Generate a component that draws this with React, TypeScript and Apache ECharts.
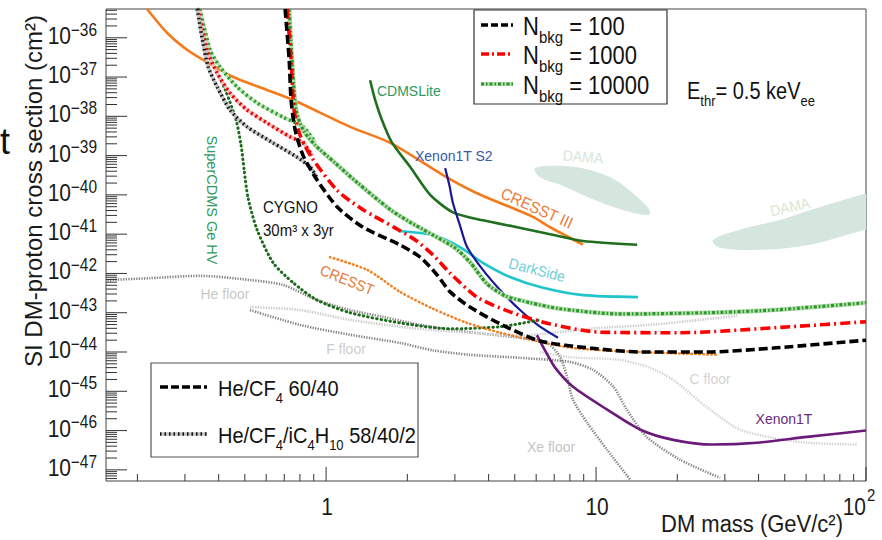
import React, { useEffect, useRef } from 'react';
import * as echarts from 'echarts';

const FONT = '"Liberation Sans", Arial, Helvetica, sans-serif';

// ---------- axes ----------
const massRange = [0.153, 100];
const sigmaRange = [5.2e-48, 5.4e-36];
const massLabelValues = [1, 10, 100];
const massLabelBases = ['1', '10', '10'];
const massLabelSups = ['', '', '2'];
const massDecades = [0.1, 1, 10];
const minorMultipliers = [2, 3, 4, 5, 6, 7, 8, 9];
const sigmaLabelExponents = [-36, -37, -38, -39, -40, -41, -42, -43, -44, -45, -46, -47];
const sigmaDecadeExponents = [-48, -47, -46, -45, -44, -43, -42, -41, -40, -39, -38, -37, -36];

// ---------- curves: [mass GeV, sigma cm^2] ----------
const cresstSolid = [[0.217,5.4e-36],[0.258,1.32e-36],[0.306,4.9e-37],[0.362,2.4e-37],[0.453,1e-37],[0.604,4.7e-38],[0.755,2.6e-38],[1.227,5.4e-39],[1.73,2.1e-39],[2.71,3.2e-40],[3.62,1.1e-40],[4.8,4.9e-41],[5.84,2.75e-41],[6.76,1.5e-41],[8.95,5.4e-42]];
const cdmsLite = [[1.455,8.3e-38],[1.52,2.6e-38],[1.61,8.1e-39],[1.75,2.2e-39],[2.05,5.1e-40],[2.43,1e-40],[2.95,3.6e-41],[3.81,2.25e-41],[5.1,1.5e-41],[6.76,1e-41],[8.95,6.7e-42],[14.2,5.4e-42]];
const xenon1tS2 = [[2.76,4.8e-40],[2.86,1.8e-40],[2.95,6.2e-41],[3.13,1.7e-41],[3.33,4.7e-42],[3.81,1.23e-42],[4.41,3.8e-43],[5.23,1.17e-43],[6.2,4.4e-44],[7.23,2.3e-44]];
const darkSide = [[1.85,1.2e-41],[2.49,9.5e-42],[3.13,4.7e-42],[3.81,1.86e-42],[4.8,8.1e-43],[6.36,4.3e-43],[8.95,2.8e-43],[14.3,2.5e-43]];
const xenon1t = [[6.04,2.7e-44],[6.47,1.1e-44],[7.05,4e-45],[8.22,1.3e-45],[11.0,3.4e-46],[14.6,1.05e-46],[19.3,5.8e-47],[27.1,4.4e-47],[39.5,4.9e-47],[60.4,6.9e-47],[100,1e-46]];
const superCdmsGeHv = [[0.336,5.4e-36],[0.362,4.9e-37],[0.423,4.7e-38],[0.464,8.1e-39],[0.484,1.86e-39],[0.497,4.3e-40],[0.514,8.3e-41],[0.555,1.3e-41],[0.637,1.86e-42],[0.755,5.8e-43],[0.926,2.1e-43],[1.227,1e-43],[1.88,5.5e-44],[2.88,3.9e-44],[4.41,4.4e-44],[6.2,6.6e-44]];
const cresstDotted = [[1.035,2.6e-42],[1.42,1.23e-42],[1.88,3.4e-43],[2.49,1.26e-43],[3.33,5.5e-44],[4.41,3.1e-44],[5.84,2.0e-44],[8.22,1.26e-44],[14.6,1e-44],[28.3,8.5e-45]];

const heCf4Bkg100 = [[0.705,5.4e-36],[0.73,2.7e-37],[0.742,2.6e-38],[0.768,4.5e-39],[0.822,1.0e-39],[0.926,2.4e-40],[1.1,4.9e-41],[1.37,1.5e-41],[1.88,5.3e-42],[2.23,2.6e-42],[2.58,9.1e-43],[2.88,3.4e-43],[3.41,1.4e-43],[4.41,5.2e-44],[6.2,1.9e-44],[9.5,1.26e-44],[14.6,1e-44],[25.8,1e-44],[45.3,1.26e-44],[100,2.0e-44]];
const heCf4Bkg1000 = [[0.717,5.4e-36],[0.742,2.7e-37],[0.761,1.45e-38],[0.801,3.3e-39],[0.887,8.7e-40],[1.1,1.3e-40],[1.37,4.2e-41],[1.80,1.45e-41],[2.14,7.1e-42],[2.49,2.95e-42],[2.88,1.02e-42],[3.62,2.5e-43],[4.8,1.05e-43],[6.76,5.2e-44],[10.3,3.2e-44],[20.5,3.1e-44],[52.3,4.4e-44],[100,5.9e-44]];
const heCf4Bkg10000 = [[0.73,5.4e-36],[0.748,2.7e-37],[0.774,1.45e-38],[0.822,4.5e-39],[0.91,1.86e-39],[1.08,6.5e-40],[1.30,2.1e-40],[1.73,4.2e-41],[2.05,2.0e-41],[2.49,9.5e-42],[3.0,4.5e-42],[3.41,1.95e-42],[3.95,5.4e-43],[4.6,2.7e-43],[5.7,1.8e-43],[7.36,1.26e-43],[12.3,9.3e-44],[25.8,1e-43],[45.3,1.17e-43],[100,1.8e-43]];
const mixBkg100 = [[0.333,5.4e-36],[0.35,7.4e-37],[0.366,1.8e-37],[0.395,5.6e-38],[0.441,1.45e-38],[0.51,5.4e-39],[0.637,2.1e-39],[0.781,9.1e-40],[0.873,5.1e-40],[0.926,2.7e-40]];
const mixBkg1000 = [[0.336,5.4e-36],[0.362,4.9e-37],[0.395,1.26e-37],[0.441,3.9e-38],[0.51,1.45e-38],[0.604,6.8e-39],[0.736,3.0e-39],[0.822,2.1e-39],[0.887,1.0e-39]];
const mixBkg10000 = [[0.341,5.4e-36],[0.372,4.9e-37],[0.405,1.8e-37],[0.468,5.6e-38],[0.555,2.2e-38],[0.693,9.5e-39],[0.822,5.4e-39],[0.91,2.2e-39]];

const floorHeXe = [[0.155,6.8e-43],[0.223,7.6e-43],[0.341,8.7e-43],[0.523,6.8e-43],[0.693,5.1e-43],[0.926,2.1e-43],[1.227,1.17e-43],[1.63,7.8e-44],[2.23,4.9e-44],[3.41,3.2e-44],[5.23,2.3e-44],[6.59,1.7e-44],[7.36,7.4e-45],[7.81,2.3e-45],[8.22,6e-46],[9.26,1.6e-46],[11.0,3.2e-47],[13.4,5.6e-48]];
const floorLightUpper = [[0.523,1.4e-43],[0.801,1.17e-43],[1.227,6.6e-44],[1.88,4.4e-44],[2.49,3.6e-44],[3.41,3.1e-44],[5.23,2.6e-44],[6.93,3.1e-44],[10.3,4.1e-44],[15.8,4.9e-44],[24.3,6.6e-44],[33.3,8.3e-44]];
const floorF = [[0.523,1.17e-43],[0.801,4.9e-44],[1.227,2.75e-44],[1.88,1.7e-44],[2.49,1.1e-44],[3.41,8.5e-45],[5.23,7.1e-45],[8.0,5.6e-45],[9.75,3.5e-45],[11.6,1.3e-45],[13.0,3.4e-46],[15.4,6.9e-47],[20.5,1.8e-47],[28.8,6.3e-48]];
const floorC = [[6.2,1e-44],[8.0,7.4e-45],[12.3,6.3e-45],[15.8,4e-45],[19.3,1.95e-45],[24.3,5.4e-46],[28.8,2.2e-46],[34.1,1.05e-46],[45.3,6.5e-47],[60.4,4.9e-47],[92.7,4.4e-47]];

const damaLow = [[5.94,4.8e-40],[7.36,5.5e-40],[9.5,4.3e-40],[11.8,2.4e-40],[13.9,1e-40],[15.6,4.7e-41],[15.8,3.2e-41],[14.6,3.2e-41],[11.8,4.7e-41],[9.5,8.3e-41],[7.36,1.8e-40],[6.2,2.8e-40]];
const damaHigh = [[27.1,7.1e-42],[34.1,1.3e-41],[48,2.3e-41],[67.6,4.9e-41],[100,1.1e-40],[133,2e-40],[133,1.7e-41],[100,1.3e-41],[62,5.4e-42],[40.5,4e-42],[28.8,4.5e-42]];

// ---------- helpers ----------
function line(name: string, data: number[][], color: string, width: number, dash: any, z: number, cap = 'butt') {
  return {
    type: 'line', name, data, symbol: 'none', showSymbol: false, smooth: 0.25, silent: true, z,
    lineStyle: { color, width, type: dash || 'solid', cap },
  };
}

function polygon(name: string, pts: number[][], fill: string) {
  return {
    type: 'custom', name, coordinateSystem: 'cartesian2d', clip: true, silent: true, z: 1,
    data: [[pts[0][0], pts[0][1]]],
    renderItem: (_p: any, api: any) => ({
      type: 'polygon',
      shape: { points: pts.map((p) => api.coord(p)), smooth: 0.35 },
      style: { fill, stroke: 'none' },
    }),
  };
}

function buildOption() {
  const massTicks: number[][] = [];
  massDecades.forEach((d) => minorMultipliers.forEach((k) => {
    const v = d * k;
    if (v >= massRange[0] && v <= massRange[1]) massTicks.push([v, sigmaRange[0], 0]);
  }));
  massLabelValues.forEach((v) => massTicks.push([v, sigmaRange[0], 1]));

  const sigmaTicks: number[][] = [];
  sigmaDecadeExponents.forEach((e) => minorMultipliers.forEach((k) => {
    const v = k * Math.pow(10, e);
    if (v >= sigmaRange[0] && v <= sigmaRange[1]) sigmaTicks.push([massRange[0], v, 0]);
  }));
  sigmaLabelExponents.forEach((e) => sigmaTicks.push([massRange[0], Math.pow(10, e), 1]));

  const tickColor = '#333';
  const ink = '#1a1a1a';
  const baseText = (text: string, x: number, y: number, size: number, align: string) => ({
    type: 'text', x, y, scaleY: 1.15,
    style: { text, fontSize: size, fontFamily: FONT, fill: ink, align, verticalAlign: 'middle' },
  });

  const series: any[] = [
    polygon('DAMA', damaLow, '#d5e6de'),
    polygon('DAMA ', damaHigh, '#d5e6de'),
    // floors
    line('He floor', floorHeXe, '#858585', 2.6, [1.3, 1.3], 2),
    line('F floor upper', floorLightUpper, '#c9c9c9', 2.6, [1.3, 1.3], 2),
    line('F floor', floorF, '#858585', 2.6, [1.3, 1.3], 2),
    line('C floor', floorC, '#d0d0d0', 2.4, [1.3, 1.3], 2),
    // experiments
    line('CRESST', cresstSolid, '#f47a1c', 2.6, null, 3),
    line('CDMSLite', cdmsLite, '#1f6f1f', 2.6, null, 3),
    line('DarkSide', darkSide, '#1ec6cc', 2.6, null, 3),
    line('Xenon1T', xenon1t, '#6b1a7a', 2.6, null, 3),
    line('Xenon1T S2', xenon1tS2, '#1a1a96', 2.2, null, 3),
    line('SuperCDMS Ge HV', superCdmsGeHv, '#1b6b1b', 3, [0.5, 4], 3, 'round'),
    line('CRESST low', cresstDotted, '#f08224', 2.6, [0.5, 3.5], 3, 'round'),
    // CYGNO He/CF4/iC4H10
    line('mix 10000 base', mixBkg10000, '#bfe5b8', 3.6, null, 4),
    line('mix 10000', mixBkg10000, '#2a9a2a', 3.6, [2, 3], 4),
    line('mix 1000 base', mixBkg1000, '#f5bcbc', 3.6, null, 4),
    line('mix 1000', mixBkg1000, '#e40000', 3.6, [2, 3], 4),
    line('mix 100 base', mixBkg100, '#c2c2c2', 3.6, null, 4),
    line('mix 100', mixBkg100, '#111111', 3.6, [1.5, 3], 4),
    // CYGNO He/CF4
    line('N 10000 base', heCf4Bkg10000, '#b4dfac', 4.6, null, 5),
    line('N 10000', heCf4Bkg10000, '#2e962e', 3.2, [3, 2, 1.5, 2], 5),
    line('N 1000', heCf4Bkg1000, '#ff0000', 3.6, [10, 4, 2, 4], 5),
    line('N 100', heCf4Bkg100, '#000000', 3.6, [9, 4], 6),
    // axis ticks
    {
      type: 'custom', name: 'mass ticks', coordinateSystem: 'cartesian2d', clip: false, silent: true, z: 8,
      data: massTicks,
      renderItem: (_p: any, api: any) => {
        const p = api.coord([api.value(0), api.value(1)]);
        const len = api.value(2) ? 14 : 7;
        return { type: 'line', shape: { x1: p[0], y1: p[1], x2: p[0], y2: p[1] - len }, style: { stroke: tickColor, lineWidth: 1 } };
      },
    },
    {
      type: 'custom', name: 'sigma ticks', coordinateSystem: 'cartesian2d', clip: false, silent: true, z: 8,
      data: sigmaTicks,
      renderItem: (_p: any, api: any) => {
        const p = api.coord([api.value(0), api.value(1)]);
        const len = api.value(2) ? 21 : 11;
        return { type: 'line', shape: { x1: p[0], y1: p[1], x2: p[0] + len, y2: p[1] }, style: { stroke: tickColor, lineWidth: 1 } };
      },
    },
    {
      type: 'custom', name: 'mass labels', coordinateSystem: 'cartesian2d', clip: false, silent: true, z: 8,
      data: massLabelValues.map((v) => [v, sigmaRange[0]]),
      renderItem: (params: any, api: any) => {
        const p = api.coord([api.value(0), api.value(1)]);
        const i = params.dataIndex;
        const y = p[1] + 26;
        if (massLabelSups[i]) {
          return {
            type: 'group',
            children: [
              baseText(massLabelBases[i], p[0], y, 21, 'right'),
              baseText(massLabelSups[i], p[0] + 1, y - 12, 15, 'left'),
            ],
          };
        }
        return baseText(massLabelBases[i], p[0] + 1, y, 21, 'center');
      },
    },
    {
      type: 'custom', name: 'sigma labels', coordinateSystem: 'cartesian2d', clip: false, silent: true, z: 8,
      data: sigmaLabelExponents.map((e) => [massRange[0], Math.pow(10, e)]),
      renderItem: (params: any, api: any) => {
        const p = api.coord([api.value(0), api.value(1)]);
        const e = sigmaLabelExponents[params.dataIndex];
        const xr = p[0] - 9;
        return {
          type: 'group',
          children: [
            baseText('10', xr - 26, p[1] - 2, 21, 'right'),
            baseText('\u2212' + Math.abs(e), xr, p[1] - 8, 15.5, 'right'),
          ],
        };
      },
    },
  ];

  const T = (text: string, x: number, y: number, fill: string, fontSize: number, extra: any = {}) => ({
    type: 'text', x, y, z: 60, silent: true, rotation: extra.rotation || 0, scaleY: extra.scaleY || 1,
    style: { text, fill, fontSize, fontFamily: FONT, align: extra.align || 'center', verticalAlign: 'middle', rich: extra.rich },
  });

  const legendRich = {
    n: { fontSize: 22, fontFamily: FONT, fill: '#111' },
    s: { fontSize: 15, fontFamily: FONT, fill: '#111', padding: [18, 0, 0, 0] },
  };
  const legend2Rich = {
    n: { fontSize: 20, fontFamily: FONT, fill: '#111' },
    s: { fontSize: 13, fontFamily: FONT, fill: '#111', padding: [18, 0, 0, 0] },
  };
  const ethrRich = {
    n: { fontSize: 20, fontFamily: FONT, fill: '#111' },
    s: { fontSize: 13, fontFamily: FONT, fill: '#111', padding: [16, 0, 0, 0] },
  };
  const a = { scaleY: 1.08 };

  const graphic: any[] = [
    // left cropped letter
    T('t', 0, 141, '#111', 36, { align: 'left' }),
    // axis titles
    T('SI DM-proton cross section (cm\u00b2)', 33, 191, ink, 24, { rotation: Math.PI / 2 }),
    T('DM mass (GeV/c\u00b2)', 843, 524, ink, 22, { align: 'right', scaleY: 1.1 }),
    // annotations
    T('CDMSLite', 377, 91, '#2e9a5c', 14, { align: 'left', ...a }),
    T('Xenon1T S2', 415, 156, '#3558b0', 14, { align: 'left', ...a }),
    T('DAMA', 583, 157, '#d9e6d6', 14, { rotation: -0.08, ...a }),
    T('DAMA', 790, 207, '#d9e6d6', 14, { rotation: 0.22, ...a }),
    T('CRESST III', 537, 208, '#ec7a3c', 15, { rotation: -0.42, ...a }),
    T('SuperCDMS Ge HV', 212, 200, '#2e9a5c', 14.5, { rotation: -Math.PI / 2 }),
    T('CYGNO', 263, 207, '#111', 15, { align: 'left', ...a }),
    T('30m\u00b3 x 3yr', 263, 230, '#111', 15, { align: 'left', ...a }),
    T('DarkSide', 537, 270, '#70d0d6', 14, { rotation: -0.25, ...a }),
    T('CRESST', 347, 280, '#e57a3a', 14, { rotation: -0.38, ...a }),
    T('He floor', 225, 294, '#c9c9c9', 14, a),
    T('F floor', 346, 349, '#cdcdcd', 14, a),
    T('C floor', 710, 379, '#d4d4d4', 14, a),
    T('Xe floor', 551, 447, '#c4c4c4', 14, a),
    T('Xenon1T', 784, 419, '#6b2a80', 14, a),
    T('{n|E}{s|thr}{n|= 0.5 keV}{s|ee}', 687, 91, '#111', 20, { align: 'left', rich: ethrRich, scaleY: 1.15 }),
    // top legend
    { type: 'rect', z: 59, silent: true, shape: { x: 474, y: 10, width: 193, height: 94 }, style: { fill: '#fff', stroke: '#333', lineWidth: 1.2 } },
    { type: 'line', z: 60, silent: true, shape: { x1: 481, y1: 25, x2: 513, y2: 25 }, style: { stroke: '#000', lineWidth: 3.5, lineDash: [7, 3] } },
    { type: 'line', z: 60, silent: true, shape: { x1: 481, y1: 54, x2: 513, y2: 54 }, style: { stroke: '#ff0000', lineWidth: 3.5, lineDash: [8, 3, 2, 3] } },
    { type: 'line', z: 60, silent: true, shape: { x1: 481, y1: 84, x2: 513, y2: 84 }, style: { stroke: '#b4dfac', lineWidth: 4 } },
    { type: 'line', z: 60, silent: true, shape: { x1: 481, y1: 84, x2: 513, y2: 84 }, style: { stroke: '#2e962e', lineWidth: 3, lineDash: [3, 2, 1.5, 2] } },
    T('{n|N}{s|bkg}{n| = 100}', 523, 26, '#111', 22, { align: 'left', rich: legendRich, scaleY: 1.15 }),
    T('{n|N}{s|bkg}{n| = 1000}', 523, 55, '#111', 22, { align: 'left', rich: legendRich, scaleY: 1.15 }),
    T('{n|N}{s|bkg}{n| = 10000}', 523, 85, '#111', 22, { align: 'left', rich: legendRich, scaleY: 1.15 }),
    // bottom legend
    { type: 'rect', z: 59, silent: true, shape: { x: 151, y: 363, width: 267, height: 94 }, style: { fill: '#fff', stroke: '#555', lineWidth: 1.2 } },
    { type: 'line', z: 60, silent: true, shape: { x1: 160, y1: 387, x2: 207, y2: 387 }, style: { stroke: '#000', lineWidth: 3.5, lineDash: [8, 3] } },
    { type: 'line', z: 60, silent: true, shape: { x1: 160, y1: 434, x2: 207, y2: 434 }, style: { stroke: '#c2c2c2', lineWidth: 3.5 } },
    { type: 'line', z: 60, silent: true, shape: { x1: 160, y1: 434, x2: 207, y2: 434 }, style: { stroke: '#111', lineWidth: 3.5, lineDash: [1.5, 3] } },
    T('{n|He/CF}{s|4}{n| 60/40}', 218, 388, '#111', 20, { align: 'left', rich: legend2Rich, scaleY: 1.12 }),
    T('{n|He/CF}{s|4}{n|/iC}{s|4}{n|H}{s|10}{n| 58/40/2}', 218, 435, '#111', 20, { align: 'left', rich: legend2Rich, scaleY: 1.12 }),
  ];

  return {
    animation: false,
    backgroundColor: '#ffffff',
    grid: { left: 106, right: 16, top: 9, bottom: 59, show: true, borderColor: '#444', borderWidth: 1, backgroundColor: 'transparent' },
    xAxis: {
      type: 'log', logBase: 10, min: massRange[0], max: massRange[1],
      axisLine: { show: false }, axisTick: { show: false }, axisLabel: { show: false }, splitLine: { show: false },
    },
    yAxis: {
      type: 'log', logBase: 10, min: sigmaRange[0], max: sigmaRange[1],
      axisLine: { show: false }, axisTick: { show: false }, axisLabel: { show: false }, splitLine: { show: false },
    },
    series,
    graphic,
  };
}

export default function App() {
  const ref = useRef<HTMLDivElement>(null);
  useEffect(() => {
    document.body.style.margin = '0';
    const chart = echarts.init(ref.current as HTMLDivElement, null, { renderer: 'svg' });
    chart.setOption(buildOption() as any);
    return () => chart.dispose();
  }, []);
  return <div ref={ref} style={{ width: 882, height: 540, background: '#fff' }} />;
}
